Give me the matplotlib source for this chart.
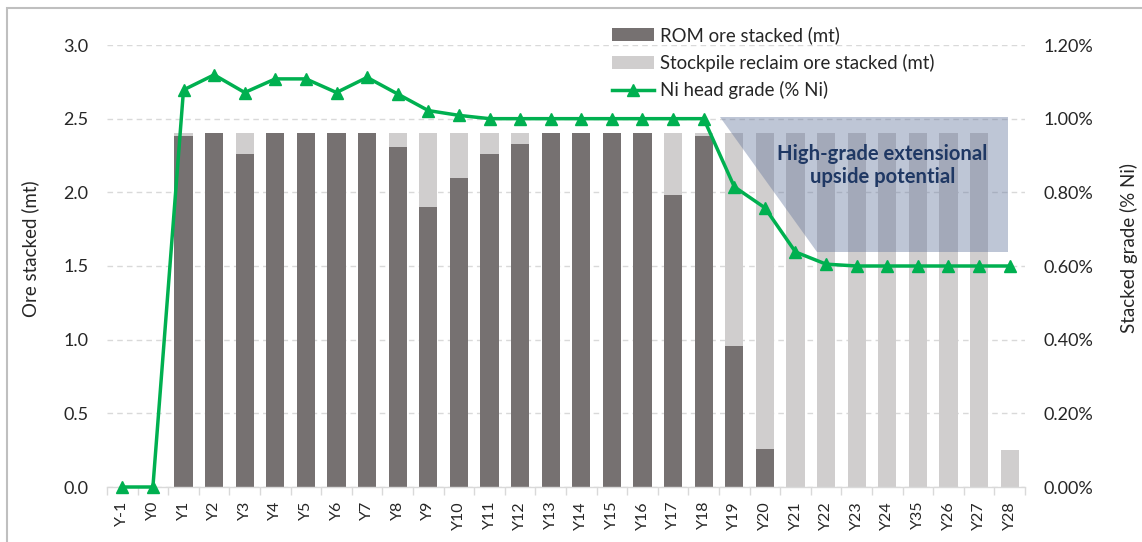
import matplotlib
matplotlib.use("Agg")
import matplotlib.pyplot as plt
from matplotlib.patches import Patch, Polygon, Rectangle
from matplotlib.lines import Line2D
from matplotlib.ticker import FuncFormatter, MultipleLocator
import numpy as np

plt.rcParams['font.family'] = ['Lato', 'DejaVu Sans']

categories = ['Y-1', 'Y0', 'Y1', 'Y2', 'Y3', 'Y4', 'Y5', 'Y6', 'Y7', 'Y8', 'Y9', 'Y10',
              'Y11', 'Y12', 'Y13', 'Y14', 'Y15', 'Y16', 'Y17', 'Y18', 'Y19', 'Y20',
              'Y21', 'Y22', 'Y23', 'Y24', 'Y35', 'Y26', 'Y27', 'Y28']

rom_ore = [0, 0, 2.38, 2.40, 2.26, 2.40, 2.40, 2.40, 2.40, 2.31, 1.90, 2.10,
           2.26, 2.33, 2.40, 2.40, 2.40, 2.40, 1.98, 2.38, 0.96, 0.26,
           0, 0, 0, 0, 0, 0, 0, 0]

stockpile_ore = [0, 0, 0.02, 0.00, 0.14, 0.00, 0.00, 0.00, 0.00, 0.09, 0.50, 0.30,
                 0.14, 0.07, 0.00, 0.00, 0.00, 0.00, 0.42, 0.02, 1.44, 2.14,
                 2.40, 2.40, 2.40, 2.40, 2.40, 2.40, 2.40, 0.25]

ni_grade = [0.0, 0.0, 1.078, 1.119, 1.071, 1.108, 1.108, 1.071, 1.112, 1.067, 1.022, 1.009,
            1.000, 1.000, 1.000, 1.000, 1.000, 1.000, 1.000, 1.000, 0.815, 0.758,
            0.638, 0.605, 0.600, 0.600, 0.600, 0.600, 0.600, 0.600]

legend_labels = ['ROM ore stacked (mt)', 'Stockpile reclaim ore stacked (mt)',
                 'Ni head grade (% Ni)']

# annotation region (category position, ore-axis value)
upside_region = [(19.54, 2.51), (28.95, 2.51), (28.95, 1.595), (22.7, 1.595)]
upside_text = 'High-grade extensional\nupside potential'

DARK = '#767171'
LIGHT = '#d0cece'
GREEN = '#00b050'
GRID = '#d9d9d9'
TXT = '#262626'

fig = plt.figure(figsize=(11.42, 5.42), dpi=100)
fig.patch.set_facecolor('white')

# outer chart frame
fig.patches.append(Rectangle((7 / 1142, -0.1), 1.2, 1 - 8 / 542 + 0.1,
                             transform=fig.transFigure, fill=False,
                             edgecolor='#bfbfbf', linewidth=1.5))

ax = fig.add_axes([107 / 1142, 55 / 542, 918 / 1142, 442 / 542])
x = np.arange(len(categories))
w = 0.6
ax.bar(x, rom_ore, width=w, color=DARK, zorder=2)
ax.bar(x, stockpile_ore, width=w, bottom=rom_ore, color=LIGHT, zorder=2)

ax.set_xlim(-0.5, len(categories) - 0.5)
ax.set_ylim(0, 3.0)
ax.yaxis.set_major_locator(MultipleLocator(0.5))
ax.yaxis.set_major_formatter(FuncFormatter(lambda v, p: f'{v:.1f}'))
ax.grid(axis='y', color=GRID, linestyle=(0, (4, 3)), linewidth=1.0, zorder=0)
ax.set_axisbelow(True)

for s in ['top', 'left', 'right']:
    ax.spines[s].set_visible(False)
ax.spines['bottom'].set_color(GRID)
ax.spines['bottom'].set_linewidth(1.0)

ax.set_xticks(x)
ax.set_xticklabels(categories, rotation=90, fontsize=11.5, color=TXT)
ax.tick_params(axis='x', which='major', length=0, pad=10)
ax.set_xticks(np.arange(-0.5, len(categories), 1.0), minor=True)
ax.tick_params(axis='x', which='minor', length=6, color=GRID, width=1.0)
ax.tick_params(axis='y', length=0, labelsize=13, labelcolor=TXT, pad=13.5)
ax.set_ylabel('Ore stacked (mt)', fontsize=13.5, color=TXT)
ax.yaxis.set_label_coords((39 - 107) / 918, 0.54)

poly = Polygon(upside_region, closed=True, facecolor='#66789e', alpha=0.42,
               edgecolor='none', zorder=3)
ax.add_patch(poly)
ax.text(24.84, 2.18, upside_text, ha='center', va='center', fontsize=14.6,
        fontweight='bold', color='#1f3864', zorder=4, linespacing=1.2)

ax2 = ax.twinx()
ax2.plot(x, ni_grade, color=GREEN, linewidth=2.5, marker='^', markersize=8,
         zorder=5, clip_on=False)
ax2.set_ylim(0, 1.2)
ax2.yaxis.set_major_locator(MultipleLocator(0.2))
ax2.yaxis.set_major_formatter(FuncFormatter(lambda v, p: f'{v:.2f}%'))
ax2.tick_params(axis='y', length=0, labelsize=13, labelcolor=TXT, pad=13.5)
for s in ['top', 'left', 'right', 'bottom']:
    ax2.spines[s].set_visible(False)
ax2.set_ylabel('Stacked grade (% Ni)', fontsize=13.5, color=TXT)
ax2.yaxis.set_label_coords((1120 - 107) / 918, 0.54)

handles = [Patch(facecolor=DARK, edgecolor='none'),
           Patch(facecolor=LIGHT, edgecolor='none'),
           Line2D([0], [0], color=GREEN, linewidth=2.5, marker='^', markersize=8)]
fig.legend(handles, legend_labels, loc='upper left',
           bbox_to_anchor=(612 / 1142, 1 - 26 / 542), frameon=False,
           fontsize=13.4, labelspacing=0.52, handlelength=2.25, handletextpad=0.35,
           labelcolor=TXT, borderaxespad=0, borderpad=0)

fig.savefig('out.png', dpi=100, facecolor='white')
